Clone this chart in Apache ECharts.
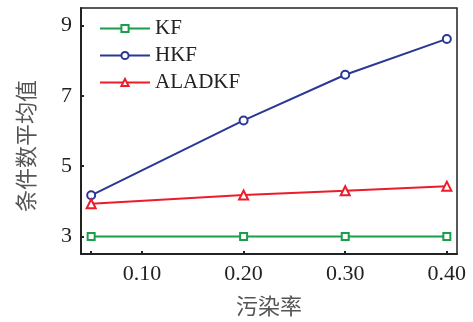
<!DOCTYPE html>
<html>
<head>
<meta charset="utf-8">
<script src="https://cdn.jsdelivr.net/npm/echarts@6/dist/echarts.min.js"></script>
<style>
html, body { margin: 0; padding: 0; background: #fff; }
#J_chart { width: 473px; height: 322px; }
</style>
</head>
<body>
<div id="J_chart"></div>
<script>
var rates = [0.05, 0.20, 0.30, 0.40];
var kfData = [3.0, 3.0, 3.0, 3.0];
var hkfData = [4.17, 6.30, 7.60, 8.62];
var aladkfData = [3.93, 4.18, 4.30, 4.43];
var xTicks = [0.05, 0.10, 0.20, 0.30, 0.40];
var xLabels = [0.10, 0.20, 0.30, 0.40];
var yTicks = [3, 5, 7, 9];

function pairs(vals) {
    var out = [];
    for (var i = 0; i < rates.length; i++) {
        out.push([rates[i], vals[i]]);
    }
    return out;
}

var serif = 'Liberation Serif';
var cjk = 'Noto Sans CJK SC';

var myChart = echarts.init(document.getElementById('J_chart'));

var option = {
    animation: false,
    grid: {
        left: 81,
        right: 16,
        top: 8,
        bottom: 68,
        outerBoundsMode: 'none',
        containLabel: false,
        show: true,
        borderColor: '#222',
        borderWidth: 1.5
    },
    legend: {
        orient: 'vertical',
        left: 94,
        top: 13,
        padding: 5,
        itemWidth: 50,
        itemHeight: 9,
        itemGap: 6,
        textStyle: {
            fontFamily: serif,
            fontSize: 21,
            color: '#222',
            lineHeight: 21
        },
        data: ['KF', 'HKF', 'ALADKF']
    },
    xAxis: {
        type: 'value',
        min: 0.04,
        max: 0.41,
        name: '污染率',
        nameLocation: 'middle',
        nameGap: 41,
        nameTextStyle: {
            fontFamily: cjk,
            fontSize: 22,
            color: '#555'
        },
        axisLine: {
            show: true,
            lineStyle: { color: '#222', width: 2 }
        },
        axisTick: {
            show: true,
            inside: true,
            length: 3,
            customValues: xTicks,
            lineStyle: { color: '#222', width: 2 }
        },
        axisLabel: {
            customValues: xLabels,
            margin: 9,
            fontFamily: serif,
            fontSize: 22,
            color: '#222',
            formatter: function (value) {
                return value.toFixed(2);
            }
        },
        splitLine: { show: false }
    },
    yAxis: {
        type: 'value',
        min: 2.5,
        max: 9.5,
        name: '条件数平均值',
        nameLocation: 'middle',
        nameGap: 44,
        nameRotate: 90,
        nameTextStyle: {
            fontFamily: cjk,
            fontSize: 22,
            color: '#555',
            padding: [0, 30, 0, 0]
        },
        axisLine: {
            show: true,
            lineStyle: { color: '#222', width: 2 }
        },
        axisTick: {
            show: true,
            inside: true,
            length: 3,
            customValues: yTicks,
            lineStyle: { color: '#222', width: 2 }
        },
        axisLabel: {
            customValues: yTicks,
            margin: 9,
            fontFamily: serif,
            fontSize: 22,
            color: '#222'
        },
        splitLine: { show: false }
    },
    series: [{
        name: 'KF',
        type: 'line',
        data: pairs(kfData),
        symbol: 'emptyRect',
        symbolSize: 7,
        color: '#1b9e4b',
        lineStyle: { width: 2 },
        itemStyle: { borderWidth: 1.3 }
    }, {
        name: 'HKF',
        type: 'line',
        data: pairs(hkfData),
        symbol: 'emptyCircle',
        symbolSize: 8,
        color: '#2a3795',
        lineStyle: { width: 2 },
        itemStyle: { borderWidth: 1.3 }
    }, {
        name: 'ALADKF',
        type: 'line',
        data: pairs(aladkfData),
        symbol: 'emptyTriangle',
        symbolSize: 9,
        color: '#ec1c2a',
        lineStyle: { width: 2 },
        itemStyle: { borderWidth: 1.3 }
    }]
};

myChart.setOption(option);
</script>
</body>
</html>
